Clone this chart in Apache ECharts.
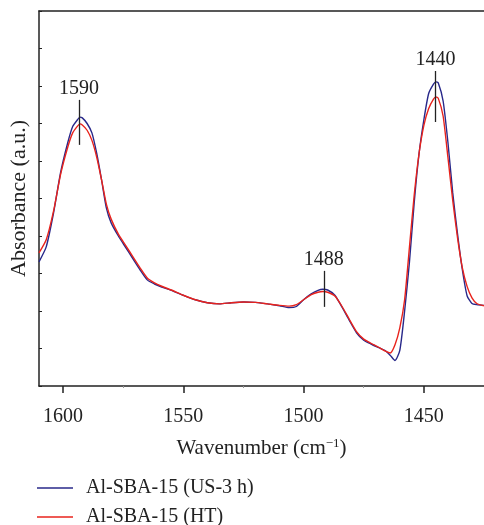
<!DOCTYPE html>
<html>
<head>
<meta charset="utf-8">
<script src="https://cdn.jsdelivr.net/npm/echarts@6/dist/echarts.min.js"></script>
<style>html,body{margin:0;padding:0;background:#fff;}#c{width:484px;height:525px;}</style>
</head>
<body>
<div id="c"></div>
<script>
const wavenumbers = [1610,1607,1604,1601,1598,1596,1594,1593,1592,1590,1588,1586,1584,1582,1580,1577,1574,1571,1568,1565,1562,1559,1555,1550,1545,1540,1535,1530,1525,1520,1515,1510,1506,1503,1500,1497,1494,1492,1490,1487,1484,1481,1478,1475,1472,1469,1466,1464,1462,1460,1458,1456,1454,1452,1450,1448,1446,1445,1444,1442,1440,1438,1436,1434,1432,1430,1428,1425];
const us3h = [3.31,3.71,4.6,5.7,6.5,6.92,7.1,7.17,7.15,7.0,6.75,6.2,5.5,4.75,4.35,4.0,3.7,3.4,3.1,2.83,2.72,2.64,2.55,2.42,2.3,2.22,2.19,2.22,2.24,2.23,2.19,2.14,2.09,2.12,2.3,2.45,2.55,2.58,2.56,2.42,2.1,1.75,1.42,1.22,1.12,1.03,0.94,0.82,0.68,0.95,2.0,3.3,4.9,6.2,7.1,7.8,8.05,8.11,8.08,7.6,6.5,5.15,4.05,3.1,2.4,2.2,2.17,2.15];
const ht = [3.55,3.9,4.65,5.65,6.38,6.75,6.93,6.99,6.96,6.82,6.55,6.1,5.5,4.85,4.45,4.05,3.75,3.45,3.15,2.88,2.75,2.66,2.56,2.42,2.3,2.22,2.19,2.22,2.24,2.23,2.19,2.15,2.13,2.17,2.3,2.43,2.5,2.52,2.5,2.4,2.12,1.78,1.45,1.25,1.14,1.04,0.93,0.88,1.1,1.55,2.3,3.7,5.1,6.2,6.95,7.4,7.65,7.71,7.67,7.2,6.1,4.95,3.95,3.15,2.65,2.35,2.2,2.14];
const seriesNames = ['Al-SBA-15 (US-3 h)', 'Al-SBA-15 (HT)'];
const xTickLabels = [1600, 1550, 1500, 1450];
const xMinorTicks = [1575, 1525, 1475];
// peak annotations: [label, wavenumber, top value, bottom value]
const peakMarks = [
  ['1590', 1593.4, 7.63, 6.43],
  ['1488', 1491.6, 3.07, 2.11],
  ['1440', 1445.2, 8.4, 7.04]
];

const FONT = 'Liberation Serif';
const chart = echarts.init(document.getElementById('c'), null, {renderer: 'canvas'});
const pairs = v => wavenumbers.map((w, i) => [w, v[i]]);

chart.setOption({
  animation: false,
  textStyle: {fontFamily: FONT, color: '#222'},
  grid: {left: 37.5, right: 0, top: 11, bottom: 139, containLabel: false},
  legend: {
    orient: 'vertical', left: 37, top: 478, height: 80, padding: 0, itemGap: 9,
    icon: 'rect', itemWidth: 36, itemHeight: 1.5,
    textStyle: {fontFamily: FONT, fontSize: 20, color: '#222', lineHeight: 20, padding: [0, 0, 0, 8]},
    data: seriesNames
  },
  xAxis: [{
    type: 'value', inverse: true, min: 1425, max: 1610, interval: 25,
    position: 'bottom',
    name: 'Wavenumber (cm{sup|\u22121})', nameLocation: 'middle', nameGap: 51,
    nameTextStyle: {fontFamily: FONT, fontSize: 21, color: '#222',
      rich: {sup: {fontFamily: FONT, fontSize: 13, color: '#222', verticalAlign: 'top', padding: [0, 0, 9, 0]}}},
    axisLine: {show: true, lineStyle: {color: '#222', width: 1.5}},
    axisTick: {show: true, customValues: xTickLabels, length: 7, lineStyle: {color: '#222', width: 1.5}},
    axisLabel: {customValues: xTickLabels, margin: 21, fontFamily: FONT, fontSize: 20, color: '#222', formatter: v => String(v)},
    splitLine: {show: false}
  }, {
    type: 'value', inverse: true, min: 1425, max: 1610, interval: 25,
    position: 'bottom',
    axisLine: {show: false},
    axisTick: {show: true, customValues: xMinorTicks, length: 2, lineStyle: {color: '#999', width: 1}},
    axisLabel: {show: false}, splitLine: {show: false}
  }, {
    type: 'value', inverse: true, min: 1425, max: 1610, interval: 25,
    position: 'top',
    axisLine: {show: true, lineStyle: {color: '#222', width: 1.5}},
    axisTick: {show: false}, axisLabel: {show: false}, splitLine: {show: false}
  }],
  yAxis: {
    type: 'value', min: 0, max: 10, interval: 1,
    name: 'Absorbance (a.u.)', nameLocation: 'middle', nameGap: 9,
    nameTextStyle: {fontFamily: FONT, fontSize: 22, color: '#222'},
    axisLine: {show: true, lineStyle: {color: '#222', width: 1.5}},
    axisTick: {show: true, inside: true, length: 3, lineStyle: {color: '#222', width: 1}},
    axisLabel: {show: false},
    splitLine: {show: false}
  },
  series: [{
    name: seriesNames[0], type: 'line', data: pairs(us3h), xAxisIndex: 0,
    showSymbol: false, symbol: 'none', smooth: 0.2,
    lineStyle: {color: '#28288a', width: 1.4}, itemStyle: {color: '#28288a'}
  }, {
    name: seriesNames[1], type: 'line', data: pairs(ht), xAxisIndex: 0,
    showSymbol: false, symbol: 'none', smooth: 0.2,
    lineStyle: {color: '#e8231c', width: 1.4}, itemStyle: {color: '#e8231c'},
    markLine: {
      silent: true, symbol: ['none', 'none'],
      lineStyle: {color: '#222', width: 1.3, type: 'solid'},
      label: {show: true, position: 'start', distance: 1, fontFamily: FONT, fontSize: 20, color: '#222', formatter: p => p.name},
      data: peakMarks.map(m => [{name: m[0], coord: [m[1], m[2]]}, {coord: [m[1], m[3]]}])
    }
  }]
});
</script>
</body>
</html>
